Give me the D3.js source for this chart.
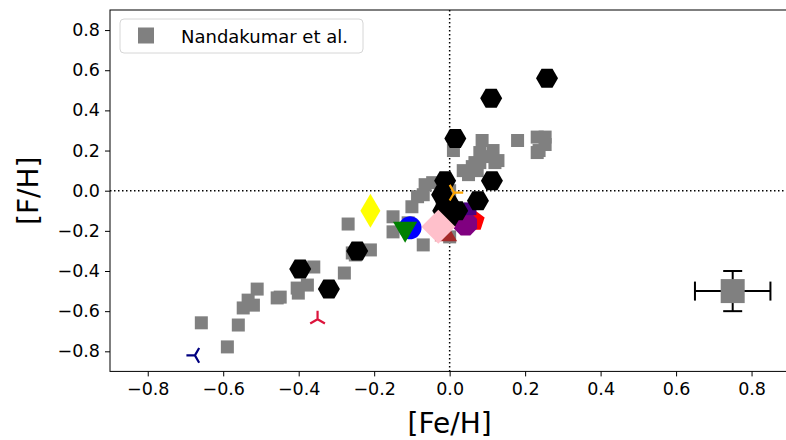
<!DOCTYPE html>
<html>
<head>
<meta charset="utf-8">
<script src="https://cdn.jsdelivr.net/npm/d3@7"></script>
<style>
  body { margin: 0; background: #fff; }
  svg { font-family: "DejaVu Sans", sans-serif; }
</style>
</head>
<body>
<svg id="chart" width="786" height="440"></svg>
<script>
// Nandakumar et al. sample ([Fe/H], [F/H])
var nandFe = [-0.658, -0.589, -0.56, -0.547, -0.52, -0.534, -0.51, -0.457, -0.449, -0.404, -0.401,
  -0.377, -0.36, -0.279, -0.258, -0.269, -0.21, -0.25, -0.15, -0.15, -0.10, -0.085, -0.07, -0.065,
  -0.045, -0.07, 0.0, 0.01, 0.036, 0.05, 0.073, 0.08, 0.08, 0.086, 0.115, 0.12, 0.128, 0.067,
  0.18, 0.232, 0.253, 0.232, 0.253, 0.237, -0.02, 0.0, -0.11, 0.095, 0.06];
var nandF = [-0.658, -0.778, -0.669, -0.584, -0.57, -0.545, -0.49, -0.534, -0.53, -0.485, -0.51,
  -0.47, -0.38, -0.41, -0.31, -0.166, -0.295, -0.32, -0.13, -0.205, -0.08, -0.03, -0.02, 0.03,
  0.04, -0.27, -0.23, 0.20, 0.10, 0.08, 0.10, 0.14, 0.19, 0.25, 0.20, 0.14, 0.15, 0.14,
  0.25, 0.267, 0.267, 0.19, 0.23, 0.20, -0.05, 0.0, -0.16, 0.17, 0.12];

// black hexagons
var hexFe = [0.258, 0.11, 0.015, 0.112, -0.012, -0.02, 0.0, -0.017, 0.02, 0.075, 0.0, -0.245, -0.396, -0.32];
var hexF = [0.56, 0.46, 0.26, 0.05, 0.05, -0.02, -0.07, -0.10, -0.10, -0.05, -0.13, -0.30, -0.39, -0.49];

// single objects, drawn in this order
var otherNames = ["brown", "red", "purple", "indigo", "pink", "blue", "green", "yellow", "orange", "crimson", "navy"];
var otherFe = [-0.01, 0.065, 0.042, 0.054, -0.03, -0.105, -0.118, -0.21, 0.012, -0.35, -0.675];
var otherF = [-0.22, -0.15, -0.165, -0.09, -0.18, -0.185, -0.19, -0.10, -0.01, -0.64, -0.82];

// typical error bar
var errFe = 0.75, errF = -0.5, errX = 0.1, errY = 0.1;

var xTicks = [-0.8, -0.6, -0.4, -0.2, 0.0, 0.2, 0.4, 0.6, 0.8];
var yTicks = [-0.8, -0.6, -0.4, -0.2, 0.0, 0.2, 0.4, 0.6, 0.8];

var svg = d3.select("#chart");
var pLeft = 110, pRight = 789.3, pTop = 10, pBottom = 371.4;

var x = d3.scaleLinear().domain([-0.9, 0.9]).range([pLeft, pRight]);
var y = d3.scaleLinear().domain([-0.9, 0.9]).range([pBottom, pTop]);

function fmt(d) { return d3.format(".1f")(d).replace("-", "\u2212"); }

// axes
svg.append("g").attr("transform", "translate(0," + pBottom + ")")
  .call(d3.axisBottom(x).tickValues(xTicks).tickFormat(fmt).tickSize(5).tickPadding(6));
svg.append("g").attr("transform", "translate(" + pLeft + ",0)")
  .call(d3.axisLeft(y).tickValues(yTicks).tickFormat(fmt).tickSize(5).tickPadding(5));
svg.selectAll(".domain").remove();
svg.selectAll(".tick text").attr("font-size", 17.5).attr("font-family", "DejaVu Sans").attr("fill", "#000");
svg.selectAll(".tick line").attr("stroke", "#000").attr("stroke-width", 1);

// frame
svg.append("rect").attr("x", pLeft).attr("y", pTop).attr("width", pRight - pLeft).attr("height", pBottom - pTop)
  .attr("fill", "none").attr("stroke", "#000").attr("stroke-width", 1);

var plot = svg.append("g");

// dotted zero lines
plot.append("line").attr("x1", pLeft).attr("x2", pRight).attr("y1", y(0)).attr("y2", y(0))
  .attr("stroke", "#000").attr("stroke-width", 1.5).attr("stroke-dasharray", "1.5,2.5");
plot.append("line").attr("x1", x(0)).attr("x2", x(0)).attr("y1", pTop).attr("y2", pBottom)
  .attr("stroke", "#000").attr("stroke-width", 1.5).attr("stroke-dasharray", "1.5,2.5");

// grey squares
var sq = 13;
plot.append("g").selectAll("rect")
  .data(d3.range(nandFe.length))
  .enter().append("rect")
  .attr("x", function (i) { return x(nandFe[i]) - sq / 2; })
  .attr("y", function (i) { return y(nandF[i]) - sq / 2; })
  .attr("width", sq).attr("height", sq)
  .attr("fill", "#808080");

// marker shapes
function polygon(n, r, rot) {
  var pts = [];
  for (var k = 0; k < n; k++) {
    var a = rot + k * 2 * Math.PI / n;
    pts.push([r * Math.cos(a), r * Math.sin(a)]);
  }
  return "M" + pts.map(function (p) { return p.join(","); }).join("L") + "Z";
}
function tri(angles, len) {
  return angles.map(function (a) {
    var r = a * Math.PI / 180;
    return "M0,0L" + (len * Math.cos(r)) + "," + (-len * Math.sin(r));
  }).join("");
}

var styles = {
  brown: { d: polygon(3, 13, -Math.PI / 2), fill: "#a52a2a" },
  red: { d: polygon(5, 11, -Math.PI / 2), fill: "#ff0000" },
  purple: { d: polygon(8, 12.5, Math.PI / 8), fill: "#800080" },
  indigo: { d: polygon(4, 9, Math.PI / 4), fill: "#4b0082" },
  pink: { d: polygon(4, 17, 0), fill: "#ffc0cb" },
  blue: { d: polygon(40, 11.5, 0), fill: "#0000ff" },
  green: { d: polygon(3, 14, Math.PI / 2), fill: "#008000" },
  yellow: { d: "M0,-17L10,0L0,17L-10,0Z", fill: "#ffff00" },
  orange: { d: tri([0, 120, 240], 9), stroke: "#ffa500" },
  crimson: { d: tri([90, 210, 330], 8.5), stroke: "#dc143c" },
  navy: { d: tri([180, 60, 300], 8.5), stroke: "#000080" }
};

function drawOther(i) {
  var s = styles[otherNames[i]];
  plot.append("path")
    .attr("transform", "translate(" + x(otherFe[i]) + "," + y(otherF[i]) + ")")
    .attr("d", s.d)
    .attr("fill", s.fill || "none")
    .attr("stroke", s.stroke || "none")
    .attr("stroke-width", s.stroke ? 2.2 : 0);
}

// coloured markers under the hexagons
[0, 1, 2, 3].forEach(drawOther);

// black hexagons
plot.append("g").selectAll("path")
  .data(d3.range(hexFe.length))
  .enter().append("path")
  .attr("transform", function (i) { return "translate(" + x(hexFe[i]) + "," + y(hexF[i]) + ")"; })
  .attr("d", polygon(6, 11, 0))
  .attr("fill", "#000");

// coloured markers above
d3.range(4, otherNames.length).forEach(drawOther);

// error bar example
var eg = plot.append("g").attr("stroke", "#000").attr("stroke-width", 2);
eg.append("line").attr("x1", x(errFe - errX)).attr("x2", x(errFe + errX)).attr("y1", y(errF)).attr("y2", y(errF));
eg.append("line").attr("x1", x(errFe)).attr("x2", x(errFe)).attr("y1", y(errF - errY)).attr("y2", y(errF + errY));
[errFe - errX, errFe + errX].forEach(function (v) {
  eg.append("line").attr("x1", x(v)).attr("x2", x(v)).attr("y1", y(errF) - 9.5).attr("y2", y(errF) + 9.5);
});
[errF - errY, errF + errY].forEach(function (v) {
  eg.append("line").attr("x1", x(errFe) - 9.5).attr("x2", x(errFe) + 9.5).attr("y1", y(v)).attr("y2", y(v));
});
plot.append("rect").attr("x", x(errFe) - 12).attr("y", y(errF) - 12).attr("width", 24).attr("height", 24)
  .attr("fill", "#808080");

// legend
var lg = svg.append("g");
lg.append("rect").attr("x", 120).attr("y", 19).attr("width", 243).attr("height", 34).attr("rx", 4)
  .attr("fill", "#fff").attr("fill-opacity", 0.8).attr("stroke", "#d6d6d6").attr("stroke-width", 1);
lg.append("rect").attr("x", 138).attr("y", 27.5).attr("width", 16).attr("height", 16).attr("fill", "#808080");
lg.append("text").attr("x", 181).attr("y", 36).attr("dominant-baseline", "central")
  .attr("font-size", 18).text("Nandakumar et al.");

// axis labels
svg.append("text").attr("x", x(0)).attr("y", 423).attr("text-anchor", "middle")
  .attr("dominant-baseline", "central").attr("font-size", 28).text("[Fe/H]");
svg.append("text").attr("transform", "translate(28," + y(0) + ") rotate(-90)")
  .attr("text-anchor", "middle").attr("dominant-baseline", "central")
  .attr("font-size", 28).text("[F/H]");
</script>
</body>
</html>
